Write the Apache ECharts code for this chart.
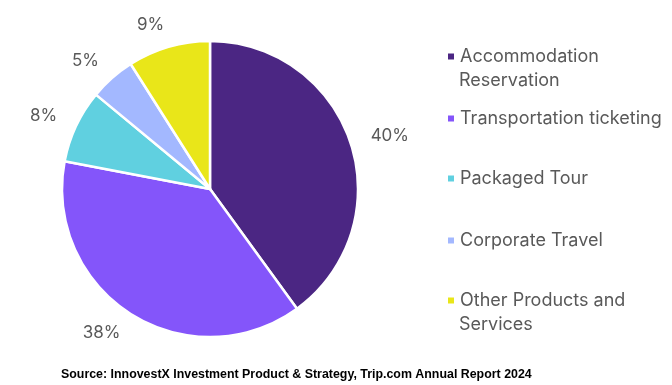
<!DOCTYPE html>
<html><head><meta charset="utf-8">
<script src="https://cdn.jsdelivr.net/npm/echarts@6/dist/echarts.min.js"></script>
<style>html,body{margin:0;padding:0;background:#fff}#c{width:672px;height:385px}</style>
</head><body><div id="c"></div>
<script>
const categories = ["Accommodation\nReservation", "Transportation ticketing", "Packaged Tour", "Corporate Travel", "Other Products and\nServices"];
const values = [40, 38, 8, 5, 9];
const colors = ["#4B2683", "#8455FA", "#60D0E0", "#A3B8FF", "#E9E619"];
const legendCenters = [56.5, 118.5, 178.5, 240.5, 300.5];
const sourceText = "Source: InnovestX Investment Product & Strategy, Trip.com Annual Report 2024";

const chart = echarts.init(document.getElementById('c'), null, {renderer: 'canvas'});
const font = "Inter, 'Noto Sans', sans-serif";
const LH = 24;
const legends = categories.map((name, i) => ({
  data: [name],
  left: 446,
  top: legendCenters[i] - LH / 2,
  padding: 0,
  orient: 'vertical',
  icon: 'rect',
  itemWidth: 8,
  itemHeight: 8,
  itemGap: 0,
  selectedMode: false,
  formatter: n => n.split('\n')[0],
  textStyle: {fontFamily: font, fontSize: 18, color: '#595959', lineHeight: LH}
}));
const secondLines = [];
categories.forEach((name, i) => {
  const parts = name.split('\n');
  if (parts.length > 1) {
    secondLines.push({
      type: 'text', x: 459, y: legendCenters[i] + 24,
      style: {text: parts[1], font: "18px " + font, fill: '#595959', verticalAlign: 'middle', align: 'left'}
    });
  }
});
chart.setOption({
  animation: false,
  color: colors,
  legend: legends,
  graphic: secondLines.concat([{
    type: 'text', x: 61, y: 375,
    style: {text: sourceText, font: "bold 12.4px 'Liberation Sans Narrow', 'Liberation Sans', sans-serif", fill: '#000', verticalAlign: 'middle'}
  }]),
  series: [{
    type: 'pie',
    center: [210, 189],
    radius: [0, 148],
    startAngle: 90,
    clockwise: true,
    avoidLabelOverlap: false,
    itemStyle: {borderColor: '#fff', borderWidth: 2.5},
    label: {show: true, position: 'outside', formatter: '{c}%', fontFamily: font, fontSize: 17, color: '#595959', distanceToLabelLine: -2},
    labelLine: {show: false, length: 23, length2: 0},
    data: categories.map((n, i) => ({name: n, value: values[i]}))
  }]
});
</script></body></html>
